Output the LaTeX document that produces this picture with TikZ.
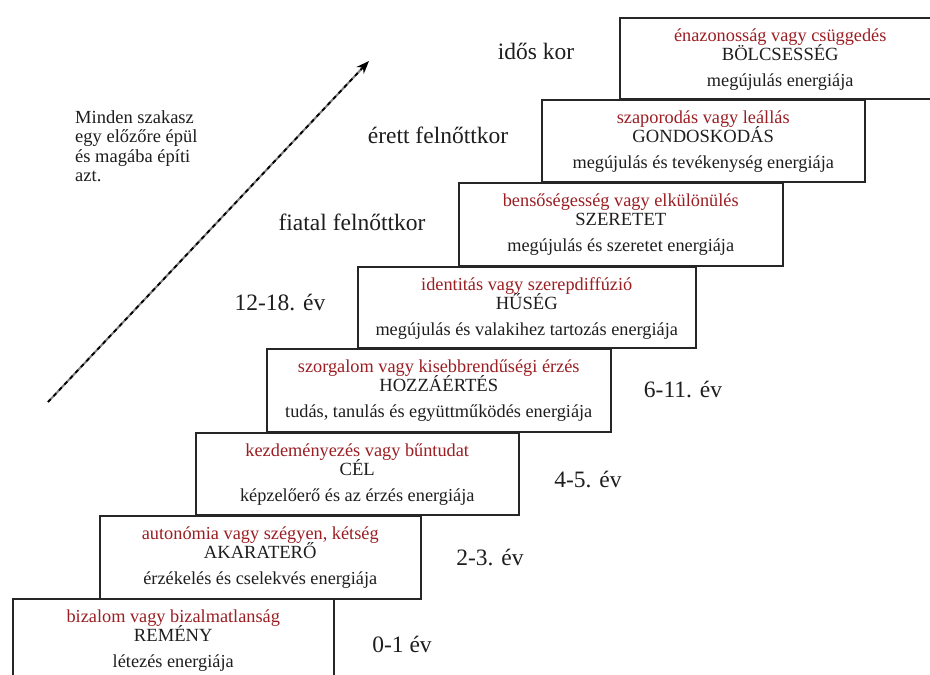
\documentclass[tikz,border=0pt]{standalone}
\usepackage{fontspec}
\setmainfont{Liberation Serif}
\usetikzlibrary{arrows.meta}
\definecolor{stagered}{RGB}{155,30,35}
\definecolor{inkgray}{RGB}{30,30,30}
\newcommand\mkstage[8]{%
  \node[stagebox, minimum width=#4pt, minimum height=#5pt] (#1) at (#2,#3) {};
  \node[redline] (#1-r) at ([yshift=-24pt]#1.north) {#6};
  \node[titleline] (#1-t) at ([yshift=-43.5pt]#1.north) {#7};
  \node[subline] (#1-s) at ([yshift=-69pt]#1.north) {#8};
}
\begin{document}
\begin{tikzpicture}[x=1pt,y=-1pt,
  stagebox/.style={draw=black!85, line width=1.5pt, fill=white, inner sep=0pt, anchor=north west},
  redline/.style={font=\fontsize{18.3}{20}\selectfont, text=stagered, anchor=base, inner sep=0pt},
  titleline/.style={font=\fontsize{18.6}{20}\selectfont, text=inkgray, anchor=base, inner sep=0pt},
  subline/.style={font=\fontsize{18.3}{20}\selectfont, text=inkgray, anchor=base, inner sep=0pt},
  agelabel/.style={font=\fontsize{23.5}{25}\selectfont, text=inkgray, anchor=base, inner sep=0pt},
  notetext/.style={anchor=north west, align=left, inner sep=0pt, font=\fontsize{18.5}{19.5}\selectfont, text=inkgray},
]
\useasboundingbox (0,0) rectangle (930,675);
\clip (0,0) rectangle (930,675);
\fill[white] (0,0) rectangle (930,675);

\mkstage{b1}{12}{598}{321}{84}{bizalom vagy bizalmatlanság}{REMÉNY}{létezés energiája}
\mkstage{b2}{99}{515}{321}{83}{autonómia vagy szégyen, kétség}{AKARATERŐ}{érzékelés és cselekvés energiája}
\mkstage{b3}{195}{432}{323}{82}{kezdeményezés vagy bűntudat}{CÉL}{képzelőerő és az érzés energiája}
\mkstage{b4}{266}{348}{344}{83}{szorgalom vagy kisebbrendűségi érzés}{HOZZÁÉRTÉS}{tudás, tanulás és együttműködés energiája}
\mkstage{b5}{357}{266}{338}{81}{identitás vagy szerepdiffúzió}{HŰSÉG}{megújulás és valakihez tartozás energiája}
\mkstage{b6}{458}{182}{324}{83}{bensőségesség vagy elkülönülés}{SZERETET}{megújulás és szeretet energiája}
\mkstage{b7}{541}{99}{323}{82}{szaporodás vagy leállás}{GONDOSKODÁS}{megújulás és tevékenység energiája}
\mkstage{b8}{619}{17}{321}{81}{énazonosság vagy csüggedés}{BÖLCSESSÉG}{megújulás energiája}

\node[agelabel] (age1) at (402,652) {0-1 év};
\node[agelabel] (age2) at (490,565) {2-3. év};
\node[agelabel] (age3) at (588,487) {4-5. év};
\node[agelabel] (age4) at (683,397) {6-11. év};
\node[agelabel] (age5) at (280,310) {12-18. év};
\node[agelabel] (age6) at (352,230) {fiatal felnőttkor};
\node[agelabel] (age7) at (438,143) {érett felnőttkor};
\node[agelabel] (age8) at (536,59) {idős kor};

\node[notetext] (note) at (75,110) {Minden szakasz\\egy előzőre épül\\és magába építi\\azt.};

\coordinate (arrtail) at (48,402);
\coordinate (arrhead) at (369,61);
\draw[line width=2pt, black!50, shorten >=8pt] (arrtail) -- (arrhead);
\draw[line width=1.8pt, black, dash pattern=on 4pt off 4pt, -{Stealth[length=13pt,width=10pt]}] (arrtail) -- (arrhead);
\end{tikzpicture}
\end{document}
